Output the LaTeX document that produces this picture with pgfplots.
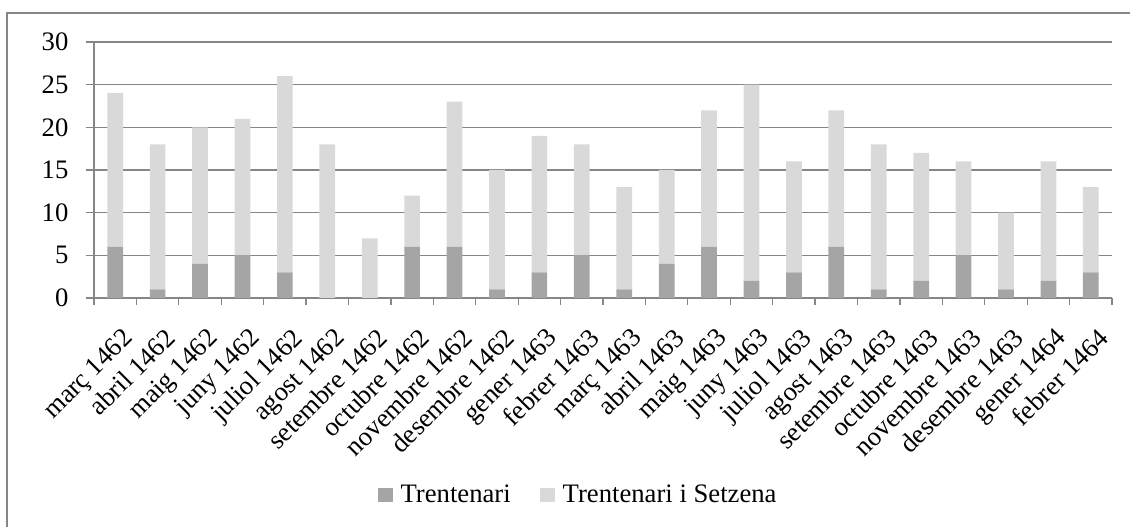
\documentclass[border=0pt]{standalone}
\usepackage{pgfplots}
\pgfplotsset{compat=1.18}
\usepackage{pgfplotstable}
\usepackage{fontspec}
\setmainfont{Liberation Serif}
\definecolor{darkbar}{HTML}{A5A5A5}
\definecolor{lightbar}{HTML}{D9D9D9}
\definecolor{gridc}{HTML}{868686}

\pgfplotstableread{
idx tr ts
0 6 18
1 1 17
2 4 16
3 5 16
4 3 23
5 0 18
6 0 7
7 6 6
8 6 17
9 1 14
10 3 16
11 5 13
12 1 12
13 4 11
14 6 16
15 2 23
16 3 13
17 6 16
18 1 17
19 2 15
20 5 11
21 1 9
22 2 14
23 3 10
}\data

\begin{document}
\begin{tikzpicture}
\useasboundingbox (-70.5pt,-171.75pt) rectangle (777pt,223.5pt);
\draw[gridc, line width=0.9pt] (-65.25pt,-180pt) -- (-65.25pt,213.75pt) -- (790pt,213.75pt);
\begin{axis}[
  at={(0pt,0pt)}, anchor=south west,
  scale only axis, width=763.5pt, height=192pt,
  font=\fontsize{20}{23}\selectfont,
  ybar stacked, bar width=11.8pt,
  xmin=-0.5, xmax=23.5, ymin=0, ymax=30,
  enlarge x limits=false, enlarge y limits=false,
  axis x line=bottom, axis y line=left,
  axis line style={gridc, line width=0.9pt, -},
  ytick={0,5,...,30},
  ymajorgrids, grid style={gridc, line width=0.9pt},
  tick align=outside,
  major tick length=6pt, minor tick length=5.25pt,
  tick style={gridc, line width=0.9pt},
  xtick={0,...,23},
  major x tick style={draw=none},
  minor xtick={-0.5,0.5,...,23.5},
  xticklabels={març 1462, abril 1462, maig 1462, juny 1462, juliol 1462, agost 1462, setembre 1462, octubre 1462, novembre 1462, desembre 1462, gener 1463, febrer 1463, març 1463, abril 1463, maig 1463, juny 1463, juliol 1463, agost 1463, setembre 1463, octubre 1463, novembre 1463, desembre 1463, gener 1464, febrer 1464},
  xticklabel style={xshift=4.5pt, yshift=-14pt, rotate=45, anchor=north east, inner sep=1pt},
  yticklabel style={/pgf/number format/assume math mode=true, inner sep=2pt, xshift=-11pt},
  legend style={at={(axis description cs:0.476,-0.77)}, anchor=center, draw=none, fill=none,
    legend columns=2, /tikz/every even column/.append style={column sep=20pt},
    font=\fontsize{20}{23}\selectfont},
  legend image code/.code={\fill[#1] (0pt,-5pt) rectangle (11pt,5.5pt); \path (15pt,0pt);},
]
\addplot[fill=darkbar, draw=none] table[x=idx, y=tr] {\data};
\addplot[fill=lightbar, draw=none] table[x=idx, y=ts] {\data};
\legend{Trentenari, Trentenari i Setzena}
\end{axis}
\end{tikzpicture}
\end{document}
